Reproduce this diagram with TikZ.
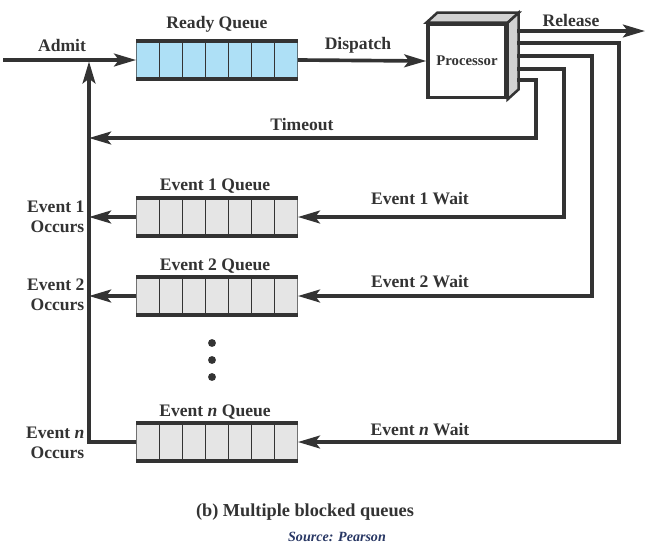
\documentclass[tikz,border=0pt]{standalone}
\usepackage{fontspec}
\setmainfont{Liberation Serif}
\usetikzlibrary{positioning,arrows.meta,calc}
\definecolor{LineGray}{RGB}{51,51,51}
\definecolor{ReadyBlue}{RGB}{174,224,246}
\definecolor{WaitGray}{RGB}{229,229,229}
\definecolor{SrcBlue}{RGB}{40,55,100}
\tikzset{
  queue/.style={rectangle, fill=#1, minimum width=4.03cm, minimum height=0.95cm, inner sep=0pt,
    path picture={\foreach \k in {0,...,7}
      \draw[line width=1pt, LineGray] ($(path picture bounding box.south west)!\k/7!(path picture bounding box.south east)$) -- ++(0,0.95cm);}},
  lbl/.style={font=\fontsize{12.5}{14.5}\selectfont\bfseries, text=LineGray, inner sep=1pt},
  arrow/.style={-{Stealth[length=5.5mm,width=3.2mm,inset=1.2mm]}, line width=2.6pt, draw=LineGray},
  wire/.style={line width=2.6pt, draw=LineGray}
}

\begin{document}
\begin{tikzpicture}[x=0.025cm, y=-0.025cm]
  \useasboundingbox (0,0) rectangle (651,548);

  % queues
  \node[queue=ReadyBlue] (ready) at (217,60) {};
  \node[queue=WaitGray] (q1) at (217,217) {};
  \node[queue=WaitGray] (q2) at (217,296) {};
  \node[queue=WaitGray] (qn) at (217,442) {};
  \foreach \q in {ready,q1,q2,qn}
    \draw[wire] (\q.north west) -- (\q.north east) (\q.south west) -- (\q.south east);

  \node[lbl] (readylbl) at (217,24) {Ready Queue};
  \node[lbl] (q1lbl) at (215,186) {Event 1 Queue};
  \node[lbl] (q2lbl) at (215,266) {Event 2 Queue};
  \node[lbl] (qnlbl) at (215,412) {Event \textit{n} Queue};

  % processor box
  \node[rectangle, draw=LineGray, line width=2.4pt, fill=white, minimum width=1.95cm,
    minimum height=1.83cm, inner sep=0pt, text=LineGray,
    font=\fontsize{10.5}{12}\selectfont\bfseries] (proc) at (467,61) {Processor};
  \draw[line width=1.8pt, LineGray, fill=gray!35] (proc.north west) -- ++(11,-10)
    -- ($(proc.north east)+(11,-10)$) -- (proc.north east) -- cycle;
  \draw[line width=1.8pt, LineGray, fill=gray!35] (proc.north east) -- ++(11,-10)
    -- ($(proc.south east)+(11,-10)$) -- (proc.south east) -- cycle;

  \coordinate (o1) at (517,31);
  \coordinate (o2) at (517,43);
  \coordinate (o3) at (517,56);
  \coordinate (o4) at (517,69);
  \coordinate (o5) at (517,80);
  \coordinate (src) at (3,60);
  \coordinate (join) at (89,60);
  \coordinate (tmo) at (89,138);
  \coordinate (relend) at (645,31);

  % main flow
  \draw[arrow] (src) -- (ready.west);
  \draw[arrow] (ready.east) -- (proc.west);
  \draw[arrow] (o1) -- (relend);
  \draw[arrow] (o2) -- (619,43) |- (qn.east);
  \draw[arrow] (o3) -- (592,56) |- (q2.east);
  \draw[arrow] (o4) -- (564,69) |- (q1.east);
  \draw[arrow] (o5) -- (536,80) |- (tmo);
  \draw[arrow, shorten >=1pt] (qn.west) -| (join);
  \draw[arrow] (q1.west) -- (q1.west -| join);
  \draw[arrow] (q2.west) -- (q2.west -| join);

  \node[lbl] (admit) at (62,45) {Admit};
  \node[lbl] (dispatch) at (358,45) {Dispatch};
  \node[lbl] (release) at (571,20) {Release};
  \node[lbl] (timeout) at (302,125) {Timeout};
  \node[lbl] (w1) at (420,199) {Event 1 Wait};
  \node[lbl] (w2) at (420,282) {Event 2 Wait};
  \node[lbl] (wn) at (420,430) {Event \textit{n} Wait};
  \node[lbl, anchor=east, align=right] (occ1) at (86,217) {Event 1\\Occurs};
  \node[lbl, anchor=east, align=right] (occ2) at (86,295) {Event 2\\Occurs};
  \node[lbl, anchor=east, align=right] (occn) at (86,443) {Event \textit{n}\\Occurs};

  \foreach \y in {343,360,377}
    \fill[LineGray] (212,\y) circle (2.8pt);

  \node[lbl, font=\fontsize{13}{15}\selectfont\bfseries] (caption) at (305,512) {(b) Multiple blocked queues};
  \node[font=\fontsize{10}{12}\selectfont\bfseries\itshape, text=SrcBlue] (source) at (337,537) {Source: Pearson};
\end{tikzpicture}
\end{document}
